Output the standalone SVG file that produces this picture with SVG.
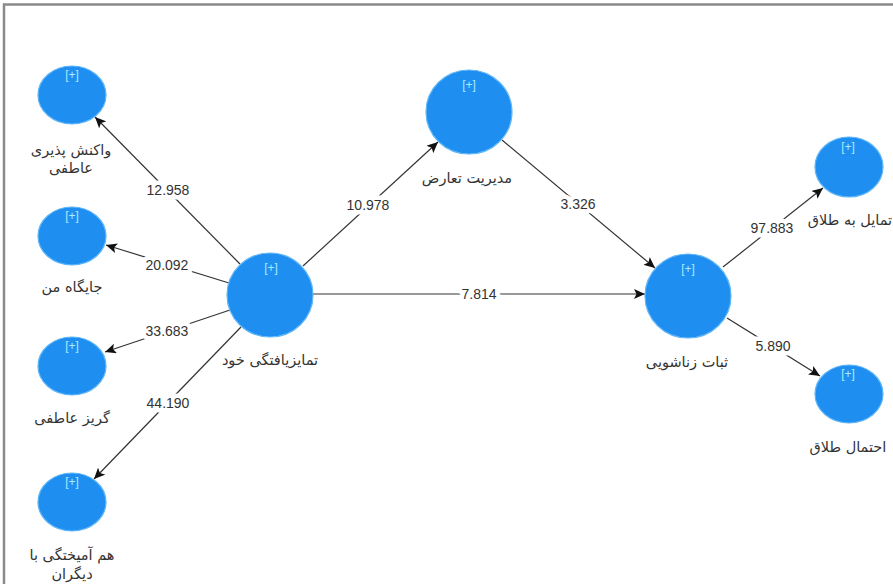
<svg xmlns="http://www.w3.org/2000/svg" width="893" height="584" viewBox="0 0 893 584">
<style>
.bg{fill:#ffffff}
.node{fill:#1e8ef0;stroke:#5fb6f7;stroke-width:1.2}
.plus{font-family:"Liberation Sans",Arial,sans-serif;font-size:12px;fill:#a8ecff;text-anchor:middle}
.lbl{font-family:"DejaVu Sans","Noto Sans",sans-serif;font-size:14.5px;fill:#333;text-anchor:middle}
.edge{stroke:#333;stroke-width:1.2;fill:none;marker-end:url(#arr)}
.num{font-family:"Liberation Sans",Arial,sans-serif;font-size:14px;fill:#333;text-anchor:middle;paint-order:stroke;stroke:#fff;stroke-width:9px;stroke-linejoin:round}
</style>
<defs>
<marker id="arr" markerUnits="userSpaceOnUse" markerWidth="12" markerHeight="10" refX="11" refY="5" orient="auto">
<path d="M0,0 L11,5 L0,10 L2.5,5 z" fill="#111"/>
</marker>
</defs>
<rect class="bg" x="0" y="0" width="893" height="584"/>
<path d="M4,584 L4,4.5 L893,4.5" fill="none" stroke="#8a8a8a" stroke-width="2.5"/>

<g id="connectors">
<line class="edge" x1="240" y1="264" x2="95" y2="117"/>
<text class="num" x="168" y="195">12.958</text>
<line class="edge" x1="229" y1="283" x2="106" y2="245"/>
<text class="num" x="167" y="270">20.092</text>
<line class="edge" x1="230" y1="310" x2="105" y2="352"/>
<text class="num" x="167" y="336">33.683</text>
<line class="edge" x1="241" y1="327" x2="94" y2="479"/>
<text class="num" x="168" y="408">44.190</text>
<line class="edge" x1="303" y1="266" x2="438" y2="142"/>
<text class="num" x="368" y="210">10.978</text>
<line class="edge" x1="502" y1="140" x2="655" y2="268"/>
<text class="num" x="578" y="209">3.326</text>
<line class="edge" x1="313" y1="294" x2="645" y2="294"/>
<text class="num" x="479" y="299">7.814</text>
<line class="edge" x1="723" y1="267" x2="823" y2="188"/>
<text class="num" x="772" y="233">97.883</text>
<line class="edge" x1="727" y1="318" x2="820" y2="376"/>
<text class="num" x="773" y="351">5.890</text>
</g>

<g id="n_vakonesh">
<ellipse class="node" cx="72" cy="95" rx="34" ry="29"/>
<text class="plus" x="72" y="79">[+]</text>
<text class="lbl" x="71" y="155">واکنش پذیری</text>
<text class="lbl" x="71" y="173">عاطفی</text>
</g>
<g id="n_jaygah">
<ellipse class="node" cx="72" cy="236" rx="34" ry="29"/>
<text class="plus" x="72" y="220">[+]</text>
<text class="lbl" x="72" y="292">جایگاه من</text>
</g>
<g id="n_goriz">
<ellipse class="node" cx="72" cy="366" rx="34" ry="29"/>
<text class="plus" x="72" y="350">[+]</text>
<text class="lbl" x="72" y="423">گریز عاطفی</text>
</g>
<g id="n_hamamikhtegi">
<ellipse class="node" cx="72" cy="502" rx="34" ry="29"/>
<text class="plus" x="72" y="486">[+]</text>
<text class="lbl" x="72" y="560">هم آمیختگی با</text>
<text class="lbl" x="72" y="579">دیگران</text>
</g>
<g id="n_tamayoz">
<ellipse class="node" cx="270" cy="295" rx="43" ry="42"/>
<text class="plus" x="271" y="272">[+]</text>
<text class="lbl" x="270" y="365">تمایزیافتگی خود</text>
</g>
<g id="n_modiriat">
<ellipse class="node" cx="469" cy="112" rx="43" ry="42"/>
<text class="plus" x="469" y="89">[+]</text>
<text class="lbl" x="467" y="183">مدیریت تعارض</text>
</g>
<g id="n_sobat">
<ellipse class="node" cx="688" cy="296" rx="43" ry="42"/>
<text class="plus" x="688" y="273">[+]</text>
<text class="lbl" x="687" y="367">ثبات زناشویی</text>
</g>
<g id="n_tamayol">
<ellipse class="node" cx="849" cy="167" rx="34" ry="30"/>
<text class="plus" x="848" y="151">[+]</text>
<text class="lbl" x="850" y="225">تمایل به طلاق</text>
</g>
<g id="n_ehtemal">
<ellipse class="node" cx="849" cy="394" rx="34" ry="29"/>
<text class="plus" x="848" y="378">[+]</text>
<text class="lbl" x="848" y="452">احتمال طلاق</text>
</g>
</svg>
